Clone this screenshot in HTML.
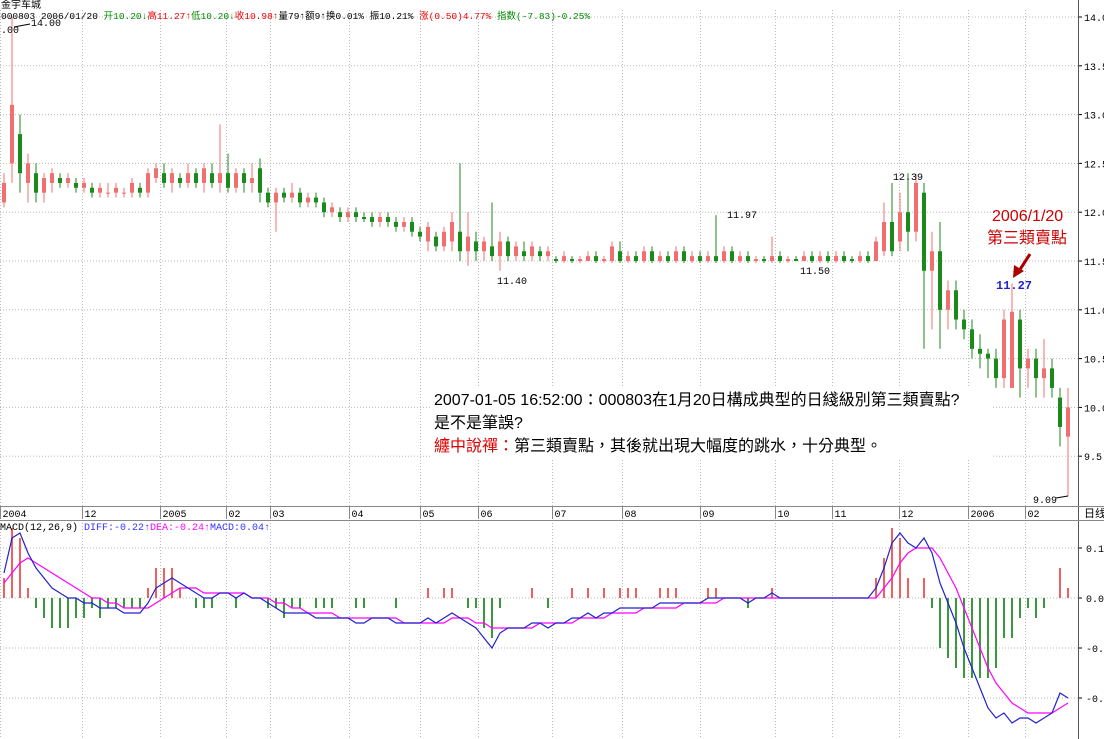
<!DOCTYPE html>
<html><head><meta charset="utf-8">
<style>
html,body{margin:0;padding:0;background:#fff;width:1104px;height:739px;overflow:hidden}
svg{display:block;font-family:"Liberation Mono","Noto Sans CJK SC",monospace}
</style></head>
<body>
<svg id="chart" width="1104" height="739" viewBox="0 0 1104 739" xmlns="http://www.w3.org/2000/svg">
<rect width="1104" height="739" fill="#fff"/>
<g id="grid"></g>
<g id="candles"></g>
<g id="macd"></g>
<g id="axes"></g>
<text x="1" y="8" font-size="10" fill="#000">金宇车城</text>
<text x="1" y="19" font-size="9.5"><tspan fill="#000">000803 2006/01/20 </tspan><tspan fill="#080">开10.20↓</tspan><tspan fill="#e00">高11.27↑</tspan><tspan fill="#080">低10.20↓</tspan><tspan fill="#e00">收10.98↑</tspan><tspan fill="#000">量79↑额9↑换0.01% 振10.21% </tspan><tspan fill="#e00">涨(0.50)4.77% </tspan><tspan fill="#080">指数(-7.83)-0.25%</tspan></text>
<text x="0" y="520" font-size="10" fill="#000" transform="translate(0,10)"><tspan fill="#000">MACD(12,26,9) </tspan><tspan fill="#33f">DIFF:-0.22↑</tspan><tspan fill="#f0f">DEA:-0.24↑</tspan><tspan fill="#33f">MACD:0.04↑</tspan></text>
<text x="1" y="33" font-size="10" fill="#000">.00</text>
<line x1="14" y1="27" x2="30" y2="24" stroke="#000"/>
<text x="31" y="26" font-size="10" fill="#000">14.00</text>
<text x="893" y="180" font-size="10">12.39</text>
<text x="727" y="218" font-size="10">11.97</text>
<text x="497" y="284" font-size="10">11.40</text>
<text x="800" y="274" font-size="10">11.50</text>
<text x="1033" y="503" font-size="10">9.09</text>
<line x1="1056" y1="498" x2="1068" y2="496" stroke="#000"/>
<text x="996" y="289" font-size="12" fill="#22c" font-weight="bold">11.27</text>
<text x="992" y="221" font-size="16" fill="#c00" font-family="Liberation Sans,Noto Sans CJK TC,sans-serif">2006/1/20</text>
<text x="987" y="243" font-size="16" fill="#c00" font-family="Liberation Sans,Noto Sans CJK TC,sans-serif">第三類賣點</text>
<g><line x1="1030" y1="254" x2="1019" y2="271" stroke="#a00" stroke-width="3"/><polygon points="1013,278 1014,265 1024,271" fill="#a00"/></g>
<rect x="432" y="388" width="560" height="70" fill="#fff"/>
<g font-family="Liberation Sans,Noto Sans CJK TC,sans-serif" font-size="16">
<text x="434" y="405" fill="#000">2007-01-05 16:52:00：000803在1月20日構成典型的日綫級別第三類賣點?</text>
<text x="434" y="428" fill="#000">是不是筆誤?</text>
<text x="434" y="451"><tspan fill="#d00">纏中說禪：</tspan><tspan fill="#000">第三類賣點，其後就出現大幅度的跳水，十分典型。</tspan></text>
</g>
</svg>
<script>
const ohlc=[[12.1,12.3,12.4,12.05],[12.5,13.1,14.0,12.3],[12.8,12.4,13.0,12.2],[12.3,12.5,12.6,12.1],[12.4,12.2,12.5,12.1],[12.2,12.35,12.4,12.1],[12.3,12.4,12.45,12.2],[12.35,12.3,12.4,12.25],[12.3,12.35,12.4,12.25],[12.3,12.25,12.35,12.2],
[12.25,12.3,12.35,12.2],[12.25,12.2,12.3,12.15],[12.2,12.25,12.3,12.15],[12.2,12.2,12.3,12.15],[12.2,12.25,12.3,12.15],[12.2,12.2,12.25,12.15],[12.2,12.3,12.35,12.15],[12.25,12.2,12.3,12.15],[12.2,12.4,12.45,12.15],[12.35,12.45,12.5,12.3],
[12.4,12.3,12.5,12.25],[12.3,12.4,12.45,12.2],[12.35,12.3,12.4,12.25],[12.3,12.4,12.5,12.25],[12.4,12.3,12.45,12.25],[12.3,12.45,12.5,12.2],[12.4,12.3,12.5,12.25],[12.3,12.4,12.9,12.2],[12.4,12.25,12.6,12.2],[12.25,12.4,12.45,12.2],
[12.4,12.3,12.45,12.2],[12.3,12.35,12.5,12.2],[12.45,12.2,12.55,12.1],[12.2,12.1,12.25,12.05],[12.1,12.2,12.25,11.8],[12.2,12.15,12.25,12.1],[12.15,12.2,12.3,12.1],[12.2,12.1,12.25,12.05],[12.1,12.15,12.2,12.05],[12.15,12.1,12.2,12.05],
[12.1,12.0,12.15,11.95],[12.0,12.05,12.1,11.95],[12.0,11.95,12.05,11.9],[11.95,12.0,12.05,11.9],[12.0,11.95,12.05,11.9],[11.95,11.93,12.0,11.9],[11.95,11.9,12.0,11.85],[11.9,11.95,12.0,11.85],[11.95,11.9,12.0,11.85],[11.9,11.85,11.95,11.8],
[11.85,11.9,11.95,11.8],[11.9,11.8,11.95,11.75],[11.8,11.75,11.85,11.7],[11.7,11.85,11.9,11.6],[11.75,11.65,11.8,11.6],[11.65,11.8,11.85,11.6],[11.7,11.9,12.0,11.6],[11.8,11.6,12.5,11.5],[11.6,11.75,12.0,11.45],[11.7,11.6,11.8,11.5],
[11.6,11.7,11.75,11.5],[11.65,11.55,12.1,11.5],[11.55,11.7,11.8,11.4],[11.7,11.55,11.75,11.5],[11.55,11.65,11.7,11.5],[11.6,11.55,11.7,11.5],[11.55,11.65,11.7,11.5],[11.6,11.55,11.65,11.5],[11.55,11.6,11.65,11.5],[11.52,11.5,11.55,11.48],
[11.5,11.55,11.6,11.48],[11.52,11.5,11.55,11.48],[11.5,11.52,11.55,11.48],[11.5,11.55,11.6,11.5],[11.55,11.5,11.6,11.48],[11.5,11.52,11.55,11.48],[11.5,11.65,11.7,11.48],[11.6,11.5,11.7,11.48],[11.5,11.55,11.6,11.48],[11.55,11.5,11.6,11.48],
[11.5,11.6,11.65,11.48],[11.6,11.5,11.65,11.48],[11.5,11.55,11.6,11.48],[11.55,11.5,11.6,11.48],[11.5,11.6,11.65,11.48],[11.6,11.5,11.65,11.48],[11.5,11.55,11.6,11.48],[11.55,11.5,11.6,11.48],[11.5,11.55,11.6,11.48],[11.55,11.5,11.97,11.48],
[11.5,11.6,11.65,11.48],[11.6,11.5,11.65,11.48],[11.5,11.55,11.6,11.48],[11.55,11.5,11.6,11.48],[11.5,11.52,11.55,11.48],[11.52,11.5,11.55,11.48],[11.5,11.55,11.75,11.48],[11.55,11.5,11.6,11.48],[11.5,11.52,11.55,11.48],[11.52,11.5,11.55,11.5],
[11.5,11.55,11.6,11.5],[11.55,11.5,11.6,11.48],[11.5,11.55,11.6,11.48],[11.55,11.5,11.6,11.48],[11.5,11.55,11.6,11.48],[11.55,11.5,11.6,11.48],[11.52,11.5,11.55,11.48],[11.5,11.55,11.6,11.48],[11.55,11.5,11.6,11.48],[11.5,11.7,11.75,11.5],
[11.6,11.9,12.1,11.55],[11.9,11.6,12.3,11.55],[11.7,12.0,12.2,11.6],[12.0,11.8,12.4,11.6],[11.8,12.3,12.39,11.7],[12.2,11.4,12.3,10.6],[11.4,11.6,11.8,10.8],[11.6,11.0,11.9,10.6],[11.0,11.2,11.3,10.8],[11.2,10.9,11.3,10.8],
[10.9,10.8,11.0,10.7],[10.8,10.6,10.9,10.5],[10.6,10.55,10.75,10.4],[10.55,10.5,10.6,10.3],[10.5,10.3,10.6,10.2],[10.3,10.9,11.0,10.2],[10.2,10.98,11.27,10.2],[10.9,10.4,11.0,10.1],[10.4,10.5,10.6,10.2],[10.5,10.3,10.6,10.1],
[10.3,10.4,10.7,10.1],[10.4,10.2,10.5,10.1],[10.1,9.8,10.2,9.6],[9.7,10.0,10.2,9.09]];
const diff=[0.05,0.12,0.13,0.09,0.06,0.04,0.02,0.01,0.0,0.0,-0.01,-0.01,-0.02,-0.02,-0.02,-0.03,-0.03,-0.03,-0.01,0.02,0.03,0.04,0.03,0.02,0.01,0.0,0.0,0.01,0.01,0.0,0.01,0.0,0.0,-0.01,-0.02,-0.03,-0.03,-0.03,-0.03,-0.04,-0.04,-0.04,-0.04,-0.04,-0.05,-0.05,-0.04,-0.04,-0.04,-0.05,-0.05,-0.05,-0.05,-0.04,-0.05,-0.04,-0.03,-0.04,-0.05,-0.06,-0.08,-0.1,-0.07,-0.06,-0.06,-0.06,-0.05,-0.05,-0.06,-0.05,-0.05,-0.04,-0.04,-0.03,-0.04,-0.03,-0.03,-0.02,-0.02,-0.02,-0.02,-0.02,-0.01,-0.01,-0.01,-0.01,-0.01,-0.01,0.0,0.0,0.0,0.0,0.0,-0.01,0.0,0.0,0.01,0.0,0.0,0.0,0.0,0.0,0.0,0.0,0.0,0.0,0.0,0.0,0.0,0.02,0.06,0.11,0.13,0.11,0.1,0.12,0.09,0.03,-0.01,-0.05,-0.1,-0.14,-0.18,-0.22,-0.24,-0.23,-0.25,-0.24,-0.24,-0.25,-0.24,-0.23,-0.19,-0.2];
const dea=[0.03,0.05,0.07,0.08,0.07,0.06,0.05,0.04,0.03,0.02,0.01,0.0,0.0,-0.01,-0.01,-0.02,-0.02,-0.02,-0.02,-0.01,0.0,0.01,0.02,0.02,0.02,0.01,0.01,0.01,0.01,0.01,0.01,0.0,0.0,0.0,-0.01,-0.01,-0.02,-0.02,-0.03,-0.03,-0.03,-0.03,-0.04,-0.04,-0.04,-0.04,-0.04,-0.04,-0.04,-0.04,-0.05,-0.05,-0.05,-0.05,-0.05,-0.05,-0.04,-0.04,-0.04,-0.05,-0.05,-0.06,-0.06,-0.06,-0.06,-0.06,-0.06,-0.05,-0.05,-0.05,-0.05,-0.05,-0.04,-0.04,-0.04,-0.04,-0.03,-0.03,-0.03,-0.03,-0.02,-0.02,-0.02,-0.02,-0.02,-0.01,-0.01,-0.01,-0.01,-0.01,0.0,0.0,0.0,0.0,0.0,0.0,0.0,0.0,0.0,0.0,0.0,0.0,0.0,0.0,0.0,0.0,0.0,0.0,0.0,0.0,0.02,0.04,0.07,0.09,0.1,0.1,0.1,0.08,0.05,0.02,-0.02,-0.06,-0.1,-0.14,-0.17,-0.19,-0.21,-0.22,-0.23,-0.23,-0.23,-0.23,-0.22,-0.21];
const priceTicks=[14.0,13.5,13.0,12.5,12.0,11.5,11.0,10.5,10.0,9.5];
const macdTicks=[0.1,0.0,-0.1,-0.2];
const monthLabels=["2004","12","2005","02","03","04","05","06","07","08","09","10","11","12","2006","02"];
const monthIdx=[0,10.2,20,28.3,33.8,43.6,52.5,59.8,69,77.8,87.5,96.9,104,112.4,121,128.1];

const NS="http://www.w3.org/2000/svg";
function el(tag,attrs,parent){const e=document.createElementNS(NS,tag);for(const k in attrs)e.setAttribute(k,attrs[k]);parent.appendChild(e);return e;}
const xOf=i=>4+i*8;
const yP=p=>17+(14-p)*97.6;
const yM=v=>598-v*500;
const grid=document.getElementById('grid'),cg=document.getElementById('candles'),mg=document.getElementById('macd'),ax=document.getElementById('axes');

priceTicks.forEach(t=>{
  const y=yP(t);
  const l=el('line',{x1:0,x2:1078,y1:y,y2:y,stroke:'#bbb','stroke-dasharray':'1,2'},grid);
  
  
  const tx=el('text',{x:1084,y:y+4,'font-size':10,fill:'#000'},ax);
  tx.textContent=t.toFixed(1);
  
  
  el('line',{x1:1078,x2:1082,y1:y,y2:y,stroke:'#000'},ax);
});
macdTicks.forEach(t=>{
  const y=yM(t);
  const l=el('line',{x1:0,x2:1078,y1:y,y2:y,stroke:'#bbb','stroke-dasharray':'1,2'},grid);
  
  
  const tx=el('text',{x:1086,y:y+4,'font-size':10,fill:'#000'},ax);
  tx.textContent=t.toFixed(2);
  
  
  el('line',{x1:1078,x2:1082,y1:y,y2:y,stroke:'#000'},ax);
});
monthLabels.forEach((m,k)=>{
  const x=Math.round(xOf(monthIdx[k])-4)+0.5;
  const l=el('line',{x1:x,x2:x,y1:10,y2:739,stroke:'#bbb','stroke-dasharray':'1,2'},grid);
  
  
  el('line',{x1:x,x2:x,y1:507,y2:519,stroke:'#888'},ax);
  const tx=el('text',{x:x+2,y:517,'font-size':10,fill:'#000'},ax);
  tx.textContent=m;
  
  
});
el('line',{x1:1078.5,x2:1078.5,y1:0,y2:739,stroke:'#555'},ax);
el('line',{x1:0,x2:1104,y1:506.5,y2:506.5,stroke:'#888'},ax);
el('line',{x1:0,x2:1104,y1:520.5,y2:520.5,stroke:'#888'},ax);
const dl=el('text',{x:1084,y:517,'font-size':11,fill:'#000'},ax);dl.textContent='日线';



ohlc.forEach((d,i)=>{
  const [o,c,h,l]=d,x=xOf(i),up=c>=o,col=up?'#f07070':'#1a8a1a';
  const g=el('g',{},cg);
  
  
  el('line',{x1:x,x2:x,y1:yP(h),y2:yP(l),stroke:col,'stroke-width':1},g);
  const top=yP(Math.max(o,c)),bot=yP(Math.min(o,c));
  el('rect',{x:x-2,y:top,width:4,height:Math.max(1,bot-top),fill:col},g);
});

diff.forEach((v,i)=>{
  const m=2*(v-dea[i]);if(Math.abs(m)<0.001)return;
  const y0=yM(0),y1=yM(m);
  const b=el('rect',{x:xOf(i)-1,y:Math.min(y0,y1),width:2,height:Math.abs(y1-y0),fill:m>0?'#f06060':'#3a9a3a'},mg);
  
  
});
const pts=a=>a.map((v,i)=>xOf(i)+','+yM(v).toFixed(1)).join(' ');
const deaL=el('polyline',{points:pts(dea),fill:'none',stroke:'#f0f','stroke-width':1.2},mg);


const diffL=el('polyline',{points:pts(diff),fill:'none',stroke:'#22c','stroke-width':1.2},mg);


</script>
</body></html>
